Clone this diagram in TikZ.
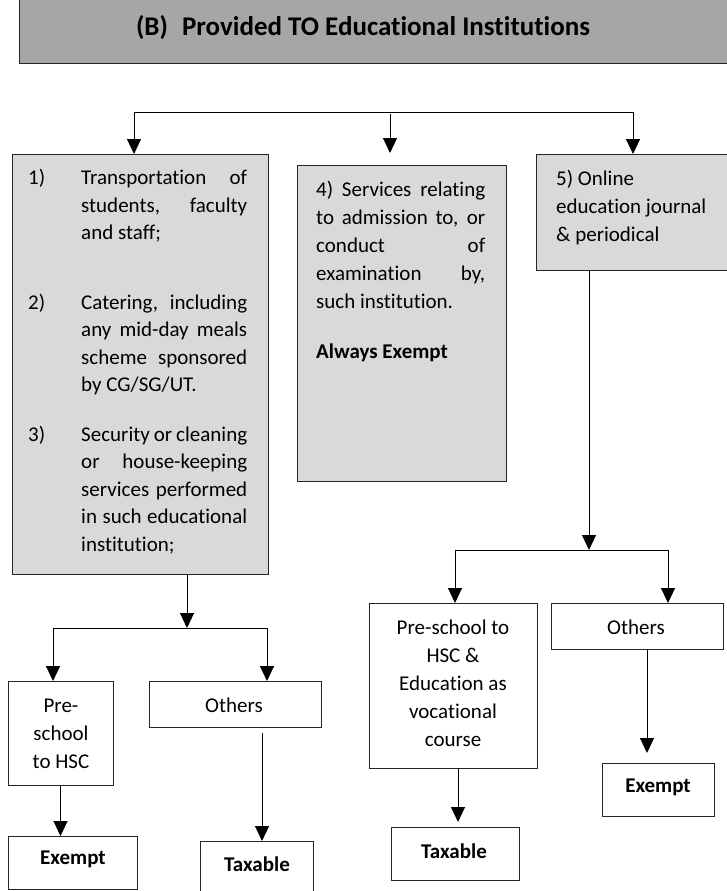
\documentclass[tikz,border=0pt]{standalone}
\usepackage{fontspec}
\setmainfont{Carlito}[Ligatures={NoCommon}]
\usetikzlibrary{arrows.meta}
\definecolor{headgray}{HTML}{A6A6A6}
\definecolor{boxgray}{HTML}{D9D9D9}
% one item of a numbered, justified list with a hanging label column
\newcommand{\listitem}[1]{\noindent\hangindent=53pt\hangafter=1\makebox[53pt][l]{#1}}
\begin{document}
\begin{tikzpicture}[x=1pt,y=-1pt,
  conn/.style={draw=black, line width=0.9pt},
  arr/.style={conn, -{Triangle[width=14pt,length=15pt]}},
  panel/.style={draw=black!85, line width=0.9pt, anchor=north west, inner sep=0pt, outer sep=0pt},
  greypanel/.style={panel, fill=boxgray},
  whitepanel/.style={panel, fill=white},
  body/.style={font=\fontsize{21}{28}\selectfont, inner sep=0pt},
  boldbody/.style={font=\fontsize{21}{28}\selectfont\bfseries, inner sep=0pt},
]
\useasboundingbox (0,0) rectangle (727,891);

% heading banner
\node[panel, fill=headgray, minimum width=730pt, minimum height=70pt] (head) at (19,-7) {};
\node[font=\fontsize{27}{31}\selectfont\bfseries, inner sep=0pt] (headtxt) at (363,28)
  {(B)\hspace{14pt}Provided TO Educational Institutions};

% first level panels
\node[greypanel, minimum width=256pt, minimum height=420pt] (s1) at (12,154) {};
\node[greypanel, minimum width=209pt, minimum height=316pt] (s4) at (297,165) {};
\node[greypanel, minimum width=200pt, minimum height=116pt] (s5) at (536,154) {};

\node[body, anchor=north west, text width=219pt, align=justify,
      font=\fontsize{21}{27.5}\selectfont] (s1txt) at (28,169) {%
  \listitem{1)}Transportation of\linebreak students, faculty\linebreak and staff;\par
  \vspace{42pt}
  \listitem{2)}Catering, including\linebreak any mid-day meals\linebreak scheme sponsored\linebreak by CG/SG/UT.\par
  \vspace{22pt}
  \listitem{3)}Security or cleaning\linebreak or house-keeping\linebreak services performed\linebreak in such educational\linebreak institution;\par};

\node[body, anchor=north west, text width=169pt, align=justify] (s4txt) at (316,181) {%
  4) Services relating\linebreak to admission to, or\linebreak conduct of\linebreak examination by,\linebreak such institution.\par
  \vspace{22pt}\noindent\textbf{Always Exempt}\par};

\node[body, anchor=north west, align=left] (s5txt) at (556,170)
  {5) Online\\education journal\\\& periodical};

% second level panels
\node[whitepanel, minimum width=105pt, minimum height=104pt] (p1) at (8,681) {};
\node[whitepanel, minimum width=172pt, minimum height=46pt] (o1) at (149,681) {};
\node[whitepanel, minimum width=168pt, minimum height=165pt] (p2) at (369,603) {};
\node[whitepanel, minimum width=172pt, minimum height=46pt] (o2) at (551,603) {};

\node[body, align=center] (p1txt) at (61,734) {Pre-\\school\\to HSC};
\node[body] (o1txt) at (234,705) {Others};
\node[body, align=center] (p2txt) at (453,683) {Pre-school to\\HSC \&\\Education as\\vocational\\course};
\node[body] (o2txt) at (636,627) {Others};

% outcome panels
\node[whitepanel, minimum width=129pt, minimum height=53pt] (e1) at (8,836) {};
\node[whitepanel, minimum width=113pt, minimum height=60pt] (t1) at (200,841) {};
\node[whitepanel, minimum width=128pt, minimum height=53pt] (t2) at (391,827) {};
\node[whitepanel, minimum width=112pt, minimum height=53pt] (e2) at (602,763) {};

\node[boldbody] (e1txt) at (73,859) {Exempt};
\node[boldbody] (t1txt) at (257,864) {Taxable};
\node[boldbody] (t2txt) at (454,851) {Taxable};
\node[boldbody] (e2txt) at (658,787) {Exempt};

% top distribution
\coordinate (jL) at (134,112);
\coordinate (jR) at (633,112);
\coordinate (jM) at (390,114);
\coordinate (s4in) at (390,153);
\draw[conn] (jL) -- (jR);
\draw[arr] (jL) -- (jL |- s1.north);
\draw[arr] (jR) -- (jR |- s5.north);
\draw[arr] (jM) -- (s4in);

% split below the first panel
\coordinate (b1) at (187,628);
\coordinate (b1L) at (53,628);
\coordinate (b1R) at (267,628);
\draw[arr] (s1.south -| b1) -- (b1);
\draw[conn] (b1L) -- (b1R);
\draw[arr] (b1L) -- (b1L |- p1.north);
\draw[arr] (b1R) -- (b1R |- o1.north);

% split below the online journal panel
\coordinate (b5) at (589,550);
\coordinate (b5L) at (455,550);
\coordinate (b5R) at (668,550);
\draw[arr] (s5.south -| b5) -- (b5);
\draw[conn] (b5L) -- (b5R);
\draw[arr] (b5L) -- (b5L |- p2.north);
\draw[arr] (b5R) -- (b5R |- o2.north);

% results
\draw[arr] (p1.south) -- (p1.south |- e1.north);
\coordinate (o1out) at (262,733);
\draw[arr] (o1out) -- (o1out |- t1.north);
\coordinate (p2out) at (458,768);
\draw[arr, shorten >=5pt] (p2out) -- (p2out |- t2.north);
\coordinate (o2out) at (647,649);
\draw[arr, shorten >=10pt] (o2out) -- (o2out |- e2.north);
\end{tikzpicture}
\end{document}
